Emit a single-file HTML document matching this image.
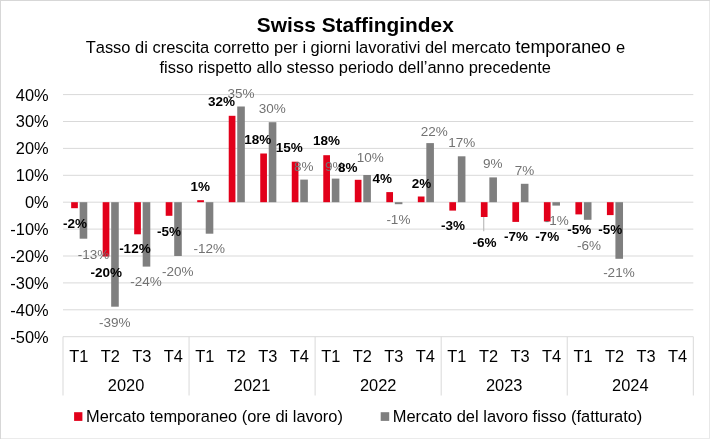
<!DOCTYPE html>
<html lang="it"><head><meta charset="utf-8"><title>Swiss Staffingindex</title>
<style>
html,body{margin:0;padding:0;background:#fff}
body{width:710px;height:439px;overflow:hidden}
svg{display:block}
text{font-family:"Liberation Sans",Arial,sans-serif;fill:#000;font-kerning:none}
.b{font-weight:bold;font-size:13.5px}
.g{fill:#727272;font-size:13.5px}
.ax{font-size:16.4px}
</style></head><body>
<svg width="710" height="439" viewBox="0 0 710 439">
<rect x="0" y="0" width="710" height="439" fill="#fff"/>
<rect x="0" y="0" width="710" height="1" fill="#d7d7d7"/><rect x="0" y="0" width="1" height="439" fill="#d7d7d7"/><rect x="709" y="1" width="1" height="438" fill="#e8e8e8"/><rect x="1" y="438" width="709" height="1" fill="#ebebeb"/>
<text x="355.3" y="31.6" text-anchor="middle" style="font-weight:bold;font-size:20.87px">Swiss Staffingindex</text>
<text x="85.7" y="53.2" style="font-size:16.47px">Tasso di crescita corretto per i giorni lavorativi del mercato <tspan style="font-size:17.92px">temporaneo</tspan><tspan dx="0.4"> e</tspan></text>
<text x="159.5" y="72.5" style="font-size:16.45px">fisso rispetto allo stesso periodo dell’anno precedente</text>
<line x1="63.0" x2="693.3" y1="94.60" y2="94.60" stroke="#d9d9d9" stroke-width="1"/>
<text class="ax" x="48.6" y="100.5" text-anchor="end">40%</text>
<line x1="63.0" x2="693.3" y1="121.50" y2="121.50" stroke="#d9d9d9" stroke-width="1"/>
<text class="ax" x="48.6" y="127.4" text-anchor="end">30%</text>
<line x1="63.0" x2="693.3" y1="148.40" y2="148.40" stroke="#d9d9d9" stroke-width="1"/>
<text class="ax" x="48.6" y="154.3" text-anchor="end">20%</text>
<line x1="63.0" x2="693.3" y1="175.30" y2="175.30" stroke="#d9d9d9" stroke-width="1"/>
<text class="ax" x="48.6" y="181.2" text-anchor="end">10%</text>
<line x1="63.0" x2="693.3" y1="202.20" y2="202.20" stroke="#d9d9d9" stroke-width="1"/>
<text class="ax" x="48.6" y="208.1" text-anchor="end">0%</text>
<line x1="63.0" x2="693.3" y1="229.10" y2="229.10" stroke="#d9d9d9" stroke-width="1"/>
<text class="ax" x="48.6" y="235.0" text-anchor="end">-10%</text>
<line x1="63.0" x2="693.3" y1="256.00" y2="256.00" stroke="#d9d9d9" stroke-width="1"/>
<text class="ax" x="48.6" y="261.9" text-anchor="end">-20%</text>
<line x1="63.0" x2="693.3" y1="282.90" y2="282.90" stroke="#d9d9d9" stroke-width="1"/>
<text class="ax" x="48.6" y="288.8" text-anchor="end">-30%</text>
<line x1="63.0" x2="693.3" y1="309.80" y2="309.80" stroke="#d9d9d9" stroke-width="1"/>
<text class="ax" x="48.6" y="315.7" text-anchor="end">-40%</text>
<line x1="63.0" x2="693.3" y1="336.70" y2="336.70" stroke="#d9d9d9" stroke-width="1"/>
<text class="ax" x="48.6" y="342.6" text-anchor="end">-50%</text>
<line x1="63.00" x2="63.00" y1="336.7" y2="395.5" stroke="#d9d9d9" stroke-width="1"/>
<line x1="189.06" x2="189.06" y1="336.7" y2="395.5" stroke="#d9d9d9" stroke-width="1"/>
<line x1="315.12" x2="315.12" y1="336.7" y2="395.5" stroke="#d9d9d9" stroke-width="1"/>
<line x1="441.18" x2="441.18" y1="336.7" y2="395.5" stroke="#d9d9d9" stroke-width="1"/>
<line x1="567.24" x2="567.24" y1="336.7" y2="395.5" stroke="#d9d9d9" stroke-width="1"/>
<line x1="693.30" x2="693.30" y1="336.7" y2="395.5" stroke="#d9d9d9" stroke-width="1"/>
<rect x="71.16" y="202.20" width="6.70" height="6.00" fill="#e2001a"/>
<rect x="79.66" y="202.20" width="7.60" height="36.50" fill="#7f7f7f"/>
<rect x="102.67" y="202.20" width="6.70" height="54.30" fill="#e2001a"/>
<rect x="111.17" y="202.20" width="7.60" height="104.50" fill="#7f7f7f"/>
<rect x="134.19" y="202.20" width="6.70" height="32.10" fill="#e2001a"/>
<rect x="142.69" y="202.20" width="7.60" height="64.40" fill="#7f7f7f"/>
<rect x="165.70" y="202.20" width="6.70" height="13.60" fill="#e2001a"/>
<rect x="174.20" y="202.20" width="7.60" height="53.80" fill="#7f7f7f"/>
<rect x="197.22" y="200.20" width="6.70" height="2.00" fill="#e2001a"/>
<rect x="205.72" y="202.20" width="7.60" height="31.50" fill="#7f7f7f"/>
<rect x="228.73" y="115.80" width="6.70" height="86.40" fill="#e2001a"/>
<rect x="237.23" y="106.50" width="7.60" height="95.70" fill="#7f7f7f"/>
<rect x="260.25" y="153.50" width="6.70" height="48.70" fill="#e2001a"/>
<rect x="268.75" y="122.20" width="7.60" height="80.00" fill="#7f7f7f"/>
<rect x="291.76" y="161.70" width="6.70" height="40.50" fill="#e2001a"/>
<rect x="300.26" y="179.60" width="7.60" height="22.60" fill="#7f7f7f"/>
<rect x="323.28" y="155.20" width="6.70" height="47.00" fill="#e2001a"/>
<rect x="331.78" y="178.60" width="7.60" height="23.60" fill="#7f7f7f"/>
<rect x="354.79" y="179.80" width="6.70" height="22.40" fill="#e2001a"/>
<rect x="363.29" y="175.00" width="7.60" height="27.20" fill="#7f7f7f"/>
<rect x="386.31" y="192.10" width="6.70" height="10.10" fill="#e2001a"/>
<rect x="394.81" y="202.20" width="7.60" height="2.00" fill="#7f7f7f"/>
<rect x="417.82" y="196.50" width="6.70" height="5.70" fill="#e2001a"/>
<rect x="426.32" y="143.10" width="7.60" height="59.10" fill="#7f7f7f"/>
<rect x="449.34" y="202.20" width="6.70" height="8.40" fill="#e2001a"/>
<rect x="457.84" y="156.30" width="7.60" height="45.90" fill="#7f7f7f"/>
<rect x="480.85" y="202.20" width="6.70" height="14.80" fill="#e2001a"/>
<rect x="489.35" y="177.40" width="7.60" height="24.80" fill="#7f7f7f"/>
<rect x="512.37" y="202.20" width="6.70" height="19.70" fill="#e2001a"/>
<rect x="520.87" y="183.80" width="7.60" height="18.40" fill="#7f7f7f"/>
<rect x="543.88" y="202.20" width="6.70" height="19.30" fill="#e2001a"/>
<rect x="552.38" y="202.20" width="7.60" height="3.40" fill="#7f7f7f"/>
<rect x="575.40" y="202.20" width="6.70" height="12.20" fill="#e2001a"/>
<rect x="583.90" y="202.20" width="7.60" height="17.60" fill="#7f7f7f"/>
<rect x="606.91" y="202.20" width="6.70" height="12.90" fill="#e2001a"/>
<rect x="615.41" y="202.20" width="7.60" height="56.60" fill="#7f7f7f"/>
<line x1="483.7" x2="483.7" y1="217" y2="231.2" stroke="#bdbdbd" stroke-width="1.2"/>
<text class="g" x="77.69" y="259.15">-13%</text>
<text class="g" x="99.09" y="326.65">-39%</text>
<text class="g" x="130.29" y="286.25">-24%</text>
<text class="g" x="161.99" y="275.85">-20%</text>
<text class="g" x="193.54" y="253.05">-12%</text>
<text class="g" x="227.45" y="98.05">35%</text>
<text class="g" x="258.75" y="112.95">30%</text>
<text class="g" x="294.05" y="170.65">8%</text>
<text class="g" x="325.10" y="170.55">9%</text>
<text class="g" x="356.70" y="162.15">10%</text>
<text class="g" x="386.38" y="223.55">-1%</text>
<text class="g" x="420.80" y="135.95">22%</text>
<text class="g" x="448.35" y="147.15">17%</text>
<text class="g" x="483.10" y="168.25">9%</text>
<text class="g" x="514.80" y="174.65">7%</text>
<text class="g" x="544.69" y="224.95">-1%</text>
<text class="g" x="577.03" y="250.05">-6%</text>
<text class="g" x="603.14" y="277.25">-21%</text>
<text class="b" x="63.03" y="227.95">-2%</text>
<text class="b" x="90.49" y="276.65">-20%</text>
<text class="b" x="119.14" y="252.55">-12%</text>
<text class="b" x="157.08" y="236.05">-5%</text>
<text class="b" x="190.50" y="191.45">1%</text>
<text class="b" x="208.10" y="106.05">32%</text>
<text class="b" x="244.20" y="144.15">18%</text>
<text class="b" x="275.85" y="152.25">15%</text>
<text class="b" x="313.05" y="145.45">18%</text>
<text class="b" x="338.00" y="171.95">8%</text>
<text class="b" x="372.50" y="182.95">4%</text>
<text class="b" x="411.70" y="187.65">2%</text>
<text class="b" x="441.03" y="230.15">-3%</text>
<text class="b" x="472.49" y="246.85">-6%</text>
<text class="b" x="503.94" y="240.95">-7%</text>
<text class="b" x="535.13" y="240.95">-7%</text>
<text class="b" x="567.24" y="233.95">-5%</text>
<text class="b" x="598.34" y="233.95">-5%</text>
<text class="ax" x="78.76" y="362.1" text-anchor="middle">T1</text>
<text class="ax" x="110.27" y="362.1" text-anchor="middle">T2</text>
<text class="ax" x="141.79" y="362.1" text-anchor="middle">T3</text>
<text class="ax" x="173.30" y="362.1" text-anchor="middle">T4</text>
<text class="ax" x="204.82" y="362.1" text-anchor="middle">T1</text>
<text class="ax" x="236.33" y="362.1" text-anchor="middle">T2</text>
<text class="ax" x="267.85" y="362.1" text-anchor="middle">T3</text>
<text class="ax" x="299.36" y="362.1" text-anchor="middle">T4</text>
<text class="ax" x="330.88" y="362.1" text-anchor="middle">T1</text>
<text class="ax" x="362.39" y="362.1" text-anchor="middle">T2</text>
<text class="ax" x="393.91" y="362.1" text-anchor="middle">T3</text>
<text class="ax" x="425.42" y="362.1" text-anchor="middle">T4</text>
<text class="ax" x="456.94" y="362.1" text-anchor="middle">T1</text>
<text class="ax" x="488.45" y="362.1" text-anchor="middle">T2</text>
<text class="ax" x="519.97" y="362.1" text-anchor="middle">T3</text>
<text class="ax" x="551.48" y="362.1" text-anchor="middle">T4</text>
<text class="ax" x="583.00" y="362.1" text-anchor="middle">T1</text>
<text class="ax" x="614.51" y="362.1" text-anchor="middle">T2</text>
<text class="ax" x="646.03" y="362.1" text-anchor="middle">T3</text>
<text class="ax" x="677.54" y="362.1" text-anchor="middle">T4</text>
<text class="ax" x="126.03" y="391.0" text-anchor="middle">2020</text>
<text class="ax" x="252.09" y="391.0" text-anchor="middle">2021</text>
<text class="ax" x="378.15" y="391.0" text-anchor="middle">2022</text>
<text class="ax" x="504.21" y="391.0" text-anchor="middle">2023</text>
<text class="ax" x="630.27" y="391.0" text-anchor="middle">2024</text>
<rect x="74.1" y="412.2" width="8.3" height="8.7" fill="#e2001a"/>
<text class="ax" x="86.0" y="421.5">Mercato temporaneo (ore di lavoro)</text>
<rect x="380.7" y="412.2" width="8.5" height="8.7" fill="#7f7f7f"/>
<text class="ax" x="392.7" y="421.5" style="font-size:16.47px">Mercato del lavoro fisso (fatturato)</text>
</svg>
</body></html>
